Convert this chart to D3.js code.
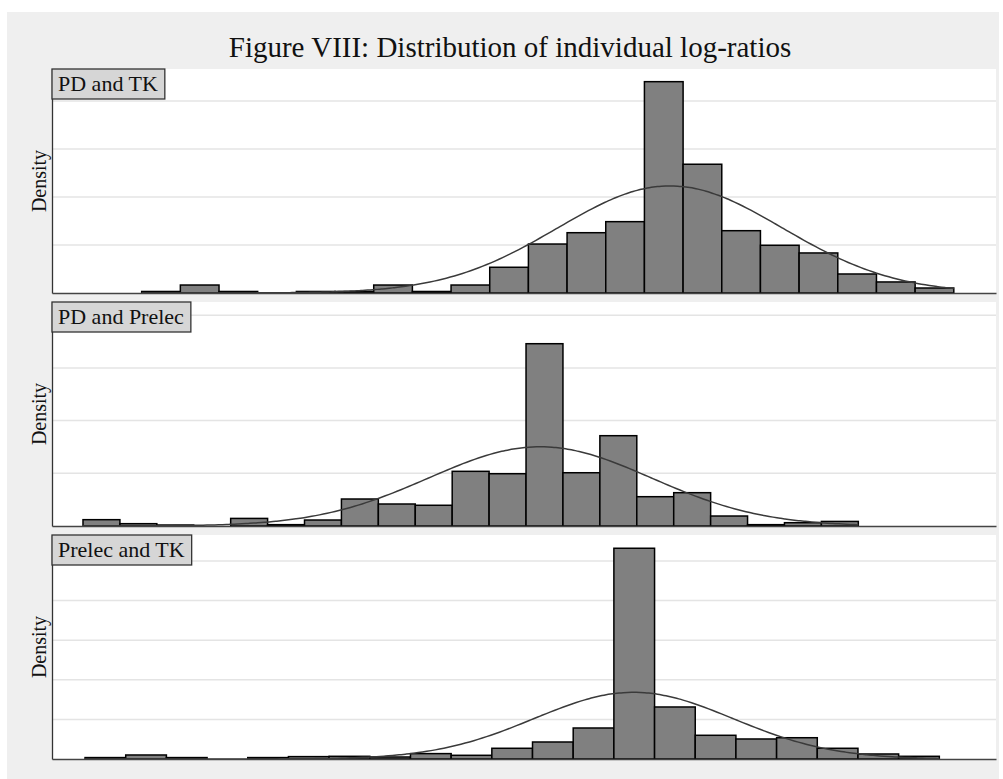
<!DOCTYPE html>
<html>
<head>
<meta charset="utf-8">
<script src="https://cdn.jsdelivr.net/npm/d3@7"></script>
<style>
  body { margin: 0; background: #fff; }
  svg { display: block; font-family: "Liberation Serif", "Times New Roman", serif; }
</style>
</head>
<body>
<div id="chart"></div>
<script>
// panel titles
const panelLabels = ["PD and TK", "PD and Prelec", "Prelec and TK"]

// histogram bins: first left edge and width (log-ratio units), densities per bin
const binStarts = [-1.715, -1.9015, -1.895]
const binWidths = [0.1229, 0.11733, 0.12928]

const densPDTK = [0.016, 0.083, 0.016, 0, 0.016, 0.016, 0.083, 0.016, 0.083, 0.268, 0.510,
  0.628, 0.743, 2.201, 1.341, 0.649, 0.497, 0.417, 0.198, 0.115, 0.052]
const densPDPrelec = [0.090, 0.033, 0.014, 0, 0.108, 0.019, 0.085, 0.384, 0.313, 0.295, 0.778,
  0.744, 2.594, 0.758, 1.285, 0.417, 0.474, 0.142, 0.019, 0.047, 0.065]
const densPrelecTK = [0.027, 0.076, 0.027, 0, 0.027, 0.045, 0.051, 0.038, 0.102, 0.070, 0.203,
  0.322, 0.587, 3.991, 0.985, 0.449, 0.379, 0.403, 0.203, 0.095, 0.051]

// fitted normal overlay
const normMeans = [-0.036, -0.449, -0.152]
const normSDs = [0.3575, 0.3537, 0.3158]

// y ticks (unlabelled gridlines) and y range top
const yTicksPDTK = [0, 0.5, 1, 1.5, 2]
const yTicksPDPrelec = [0, 0.75, 1.5, 2.25, 3]
const yTicksPrelecTK = [0, 0.75, 1.5, 2.25, 3, 3.75]
const yMaxes = [2.333, 3.1875, 4.242]

const xDomain = [-2, 1]

const panels = [
  { label: panelLabels[0], dens: densPDTK, ticks: yTicksPDTK },
  { label: panelLabels[1], dens: densPDPrelec, ticks: yTicksPDPrelec },
  { label: panelLabels[2], dens: densPrelecTK, ticks: yTicksPrelecTK }
].map((p, i) => ({ ...p, start: binStarts[i], width: binWidths[i], mean: normMeans[i], sd: normSDs[i], yMax: yMaxes[i] }))

const width = 1003
const height = 779
const left = 52, right = 996
const panelTops = [69, 302, 535]
const panelH = 224

const svg = d3.select("#chart").append("svg")
  .attr("width", width).attr("height", height)

svg.append("rect")
  .attr("x", 7).attr("y", 12).attr("width", 992).attr("height", height - 12)
  .attr("fill", "#efefef")

svg.append("text")
  .attr("x", 510).attr("y", 57)
  .attr("text-anchor", "middle")
  .attr("font-size", 29).attr("fill", "#111")
  .text("Figure VIII: Distribution of individual log-ratios")

const x = d3.scaleLinear().domain(xDomain).range([left, right])

panels.forEach((p, i) => {
  const top = panelTops[i]
  const y = d3.scaleLinear().domain([0, p.yMax]).range([top + panelH, top])
  const g = svg.append("g")

  g.append("rect")
    .attr("x", left).attr("y", top).attr("width", right - left).attr("height", panelH)
    .attr("fill", "#fff")

  // gridlines
  g.append("g")
    .selectAll("line")
    .data(p.ticks.slice(1))
    .join("line")
    .attr("x1", left).attr("x2", right)
    .attr("y1", d => y(d)).attr("y2", d => y(d))
    .attr("stroke", "#e4e4e4").attr("stroke-width", 1.5)

  const bins = p.dens.map((d, j) => ({ x0: p.start + j * p.width, x1: p.start + (j + 1) * p.width, d }))

  g.append("g")
    .selectAll("rect")
    .data(bins.filter(b => b.d > 0))
    .join("rect")
    .attr("x", b => x(b.x0))
    .attr("y", b => y(b.d))
    .attr("width", b => x(b.x1) - x(b.x0))
    .attr("height", b => y(0) - y(b.d))
    .attr("fill", "#808080")
    .attr("stroke", "#000").attr("stroke-width", 1.5)

  // normal density over the data range
  const x0 = bins[0].x0, x1 = bins[bins.length - 1].x1
  const pts = d3.range(0, 201).map(k => {
    const xv = x0 + (x1 - x0) * k / 200
    const z = (xv - p.mean) / p.sd
    return [xv, Math.exp(-z * z / 2) / (p.sd * Math.sqrt(2 * Math.PI))]
  })
  g.append("path")
    .datum(pts)
    .attr("d", d3.line().x(d => x(d[0])).y(d => y(d[1])).curve(d3.curveBasis))
    .attr("fill", "none").attr("stroke", "#3a3a3a").attr("stroke-width", 1.5)

  // axes
  g.append("g")
    .attr("transform", `translate(${left},0)`)
    .call(d3.axisLeft(y).tickValues([]).tickSizeOuter(0))
    .call(a => a.select(".domain").attr("stroke", "#333").attr("stroke-width", 1.3))
  g.append("g")
    .attr("transform", `translate(0,${top + panelH})`)
    .call(d3.axisBottom(x).tickValues([]).tickSizeOuter(0))
    .call(a => a.select(".domain").attr("stroke", "#444").attr("stroke-width", 1.3))

  g.append("text")
    .attr("transform", `translate(46,${top + panelH / 2}) rotate(-90)`)
    .attr("text-anchor", "middle")
    .attr("font-size", 20).attr("fill", "#111")
    .text("Density")

  // panel label box
  const box = g.append("rect")
    .attr("x", left).attr("y", top).attr("height", 30)
    .attr("fill", "#d6d6d6").attr("stroke", "#333").attr("stroke-width", 1.3)
  const lbl = g.append("text")
    .attr("x", left + 6).attr("y", top + 22)
    .attr("font-size", 22).attr("fill", "#111")
    .text(p.label)
  box.attr("width", lbl.node().getComputedTextLength() + 13)
})
</script>
</body>
</html>
